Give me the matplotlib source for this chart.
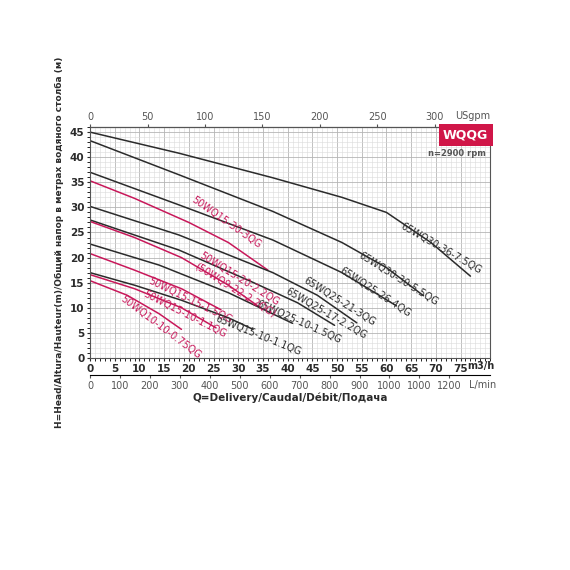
import numpy as np
import matplotlib
matplotlib.use("Agg")
import matplotlib.pyplot as plt
import matplotlib.ticker as ticker

plt.rcParams['font.family'] = ['Liberation Sans Narrow', 'DejaVu Sans']

BLACK = '#2b2b2b'
RED = '#c8185a'

# curves: (name, color, Q m3/h, H m, label Q, label H, angle)
curves = [
    ('65WQ30-36-7.5QG', BLACK, [0, 18, 37, 51, 60, 69, 77], [45, 40.8, 35.9, 32, 29, 23, 16.3], 71, 21.8, -30),
    ('65WQ30-30-5.5QG', BLACK, [0, 18, 37, 51, 60, 67.5], [43.3, 36.5, 29.2, 23, 18, 12.4], 62.5, 15.8, -32),
    ('65WQ25-26-4QG', BLACK, [0, 18, 37, 51, 62], [37, 30.5, 23.5, 17, 10.4], 57.8, 13.2, -33),
    ('50WQ15-30-3QG', RED, [0, 9, 20, 28, 36], [35.3, 31.8, 27, 23, 17.5], 27.5, 27.1, -35),
    ('65WQ25-21-3QG', BLACK, [0, 18, 37, 46, 54], [30.2, 24.5, 17, 12.5, 7], 50.5, 11.2, -32),
    ('65WQ25-17-2.2QG', BLACK, [0, 18, 32, 42, 49.5], [27.5, 21.5, 15.5, 11, 6.5], 47.8, 8.8, -30),
    ('50WQ15-20-2.2QG', RED, [0, 9, 18.5, 28, 34.5], [27.2, 24, 20, 14.5, 10], 30.2, 15.7, -32),
    ('65WQ25-10-1.5QG', BLACK, [0, 14, 28, 41], [22.7, 18.5, 13, 6.9], 42.2, 7.2, -24),
    ('50WQ15-15-1.5QG', RED, [0, 9, 18.5, 26.5], [20.8, 17.5, 13.8, 9.6], 20.2, 11.4, -26),
    ('65WQ15-10-1.1QG', BLACK, [0, 9, 18.5, 28, 33], [17, 14.5, 11.5, 8, 5.7], 34.0, 4.4, -22),
    ('50WQ15-10-1.1QG', RED, [0, 9, 18.5, 25.5], [16.6, 13.8, 10, 6], 19.2, 8.7, -27),
    ('50WQ10-10-0.75QG', RED, [0, 7.5, 14, 18.5], [15.4, 12.5, 8.8, 5.7], 14.2, 6.2, -37),
]
extra_label = ('(50WQ9-22-2.2QG)', 29.3, 13.6, -32)

q_ticks = np.arange(0, 80, 5)
usgpm_ticks = [0, 50, 100, 150, 200, 250, 300]
lmin_ticks = np.arange(0, 1300, 100)
lmin_labels = ['0', '100', '200', '300', '400', '500', '600', '700', '800', '900',
               '1000', '1000', '1200']
USGPM_PER_M3H = 4.30
LMIN_PER_M3H = 16.5

fig = plt.figure(figsize=(5.7, 5.7), dpi=100)
ax = fig.add_axes([0.158, 0.372, 0.702, 0.405])
ax.set_xlim(0, 81)
ax.set_ylim(0, 46)

ax.xaxis.set_minor_locator(ticker.MultipleLocator(1))
ax.yaxis.set_minor_locator(ticker.MultipleLocator(1))
ax.grid(which='major', color='#b5b5b5', lw=0.6)
ax.grid(which='minor', color='#dadada', lw=0.4)
ax.set_axisbelow(True)
ax.set_xticks(q_ticks)
ax.set_yticks(np.arange(0, 50, 5))
ax.tick_params(axis='both', labelsize=7.5, length=2, pad=2, colors=BLACK)
for lab in ax.get_xticklabels() + ax.get_yticklabels():
    lab.set_fontweight('bold')
for s in ax.spines.values():
    s.set_color('#555555')
    s.set_linewidth(0.8)

for name, col, q, h, lq, lh, ang in curves:
    ax.plot(q, h, color=col, lw=1.1, solid_capstyle='round')
    ax.text(lq, lh, name, color=col, fontsize=7, rotation=ang,
            ha='center', va='center', rotation_mode='anchor')
t, lq, lh, ang = extra_label
ax.text(lq, lh, t, color=RED, fontsize=7, rotation=ang, ha='center', va='center',
        rotation_mode='anchor')

ax.text(76.3, -0.6, 'm3/h', fontsize=7, fontweight='bold', ha='left', va='top', color=BLACK)

top = ax.secondary_xaxis('top', functions=(lambda x: x * USGPM_PER_M3H, lambda x: x / USGPM_PER_M3H))
top.set_xticks(usgpm_ticks)
top.tick_params(labelsize=7, length=2, pad=2, colors='#555555')
ax.text(81, 47.3, 'USgpm', fontsize=7, ha='right', va='bottom', color='#555555')

bot = ax.secondary_xaxis(-0.075, functions=(lambda x: x * LMIN_PER_M3H, lambda x: x / LMIN_PER_M3H))
bot.set_xticks(lmin_ticks)
bot.xaxis.set_major_formatter(ticker.FixedFormatter(lmin_labels))
bot.tick_params(labelsize=7, length=2, pad=2, colors='#555555')
ax.text(76.8, -4.4, 'L/min', fontsize=7, ha='left', va='top', color='#555555')

ax.text(0.5, -0.15, 'Q=Delivery/Caudal/Débit/Подача', transform=ax.transAxes,
        fontsize=7.5, fontweight='bold', ha='center', va='top', color=BLACK)
ax.set_ylabel('H=Head/Altura/Hauteur(m)/Общий напор в метрах водяного столба (м)',
              fontsize=6.5, fontweight='bold', color=BLACK, labelpad=4)

ax.text(0.995, 0.995, 'WQQG', transform=ax.transAxes, ha='right', va='top',
        fontsize=9, fontweight='bold', color='white',
        bbox=dict(boxstyle='square,pad=0.35', fc='#d01648', ec='none'))
ax.text(0.99, 0.905, 'n=2900 rpm', transform=ax.transAxes, ha='right', va='top',
        fontsize=6, fontweight='bold', color='#555555')

fig.savefig('out.png', dpi=100, facecolor='white')
